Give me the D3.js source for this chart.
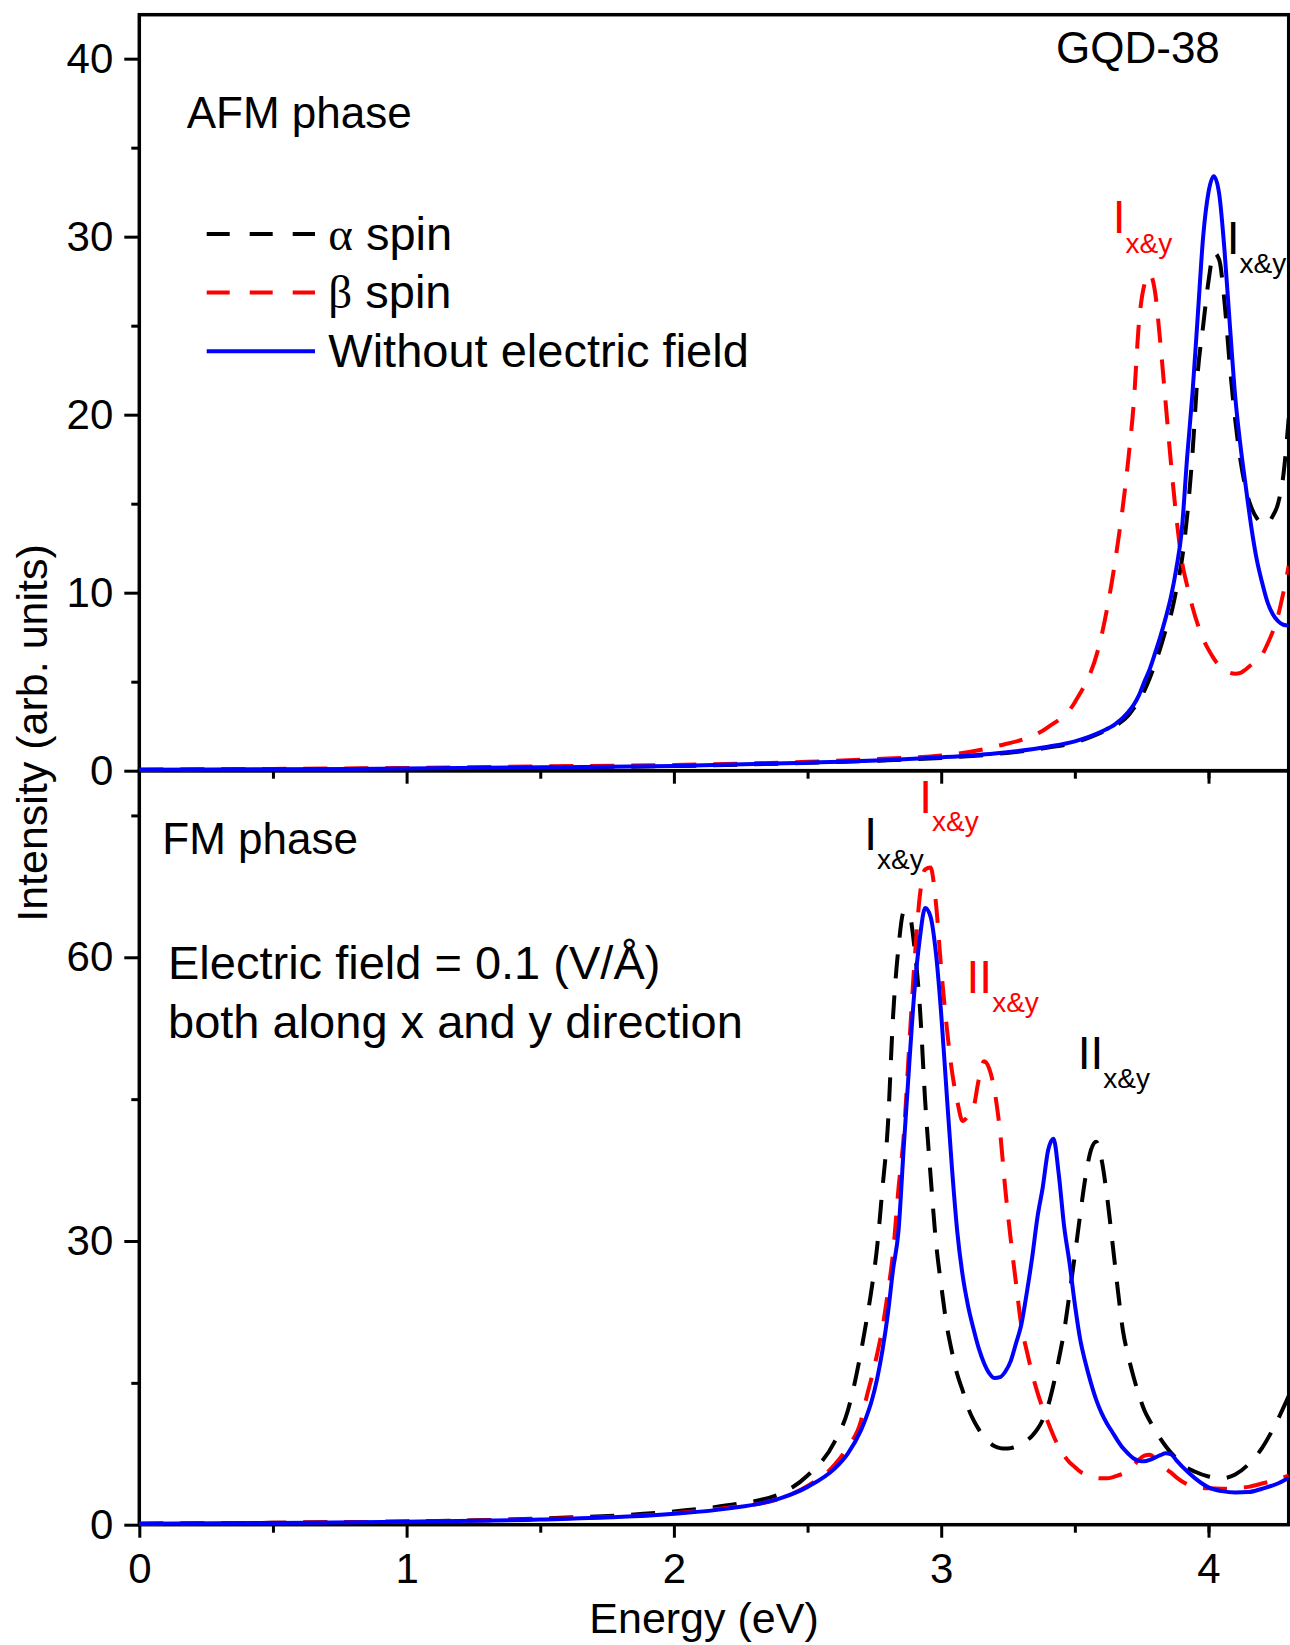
<!DOCTYPE html>
<html><head><meta charset="utf-8">
<script src="https://cdn.jsdelivr.net/npm/d3@7"></script>
<style>
html,body{margin:0;padding:0;background:#fff;}
svg text{font-family:"Liberation Sans",Arial,Helvetica,sans-serif;}
</style></head>
<body>
<svg id="chart" width="1290" height="1645"></svg>
<script>
// ---------------- DATA ----------------
const xTicksMajor = [0, 1, 2, 3, 4];
const xTicksMinor = [0.5, 1.5, 2.5, 3.5, 4.0];
const afmTicksMajor = [0, 10, 20, 30, 40];
const afmTicksMinor = [5, 15, 25, 35];
const fmTicksMajor = [0, 30, 60];
const fmTicksMinor = [15, 45, 75];

// AFM phase (top panel)
const afmEnergy = [0, 0.5, 1, 1.5, 2, 2.5, 2.8, 3.0, 3.2, 3.4, 3.5, 3.6, 3.65, 3.7,
  3.72, 3.74, 3.76, 3.78, 3.8, 3.82, 3.84, 3.86, 3.88, 3.9, 3.92, 3.94, 3.96, 3.98, 4.0,
  4.02, 4.04, 4.06, 4.08, 4.1, 4.12, 4.14, 4.16, 4.18, 4.2, 4.22, 4.24, 4.26, 4.28, 4.3];
const afmAlpha = [0.05, 0.08, 0.12, 0.18, 0.26, 0.44, 0.58, 0.72, 0.93, 1.3, 1.58, 2.15, 2.5, 3.1,
  3.5, 3.9, 4.5, 5.2, 6.0, 6.9, 7.9, 8.8, 10.2, 11.8, 14.3, 17.8, 22.4, 25.0, 27.5,
  29.1, 28.7, 26.3, 22.7, 19.7, 17.4, 15.8, 14.8, 14.2, 13.9, 13.9, 14.3, 15.0, 16.6, 19.8];
const afmBeta = [0.06, 0.1, 0.15, 0.24, 0.32, 0.5, 0.68, 0.85, 1.35, 2.45, 3.85, 7.6, 11.7, 17.5,
  20.6, 25.2, 27.3, 27.9, 26.9, 24.0, 20.6, 17.2, 14.2, 11.8, 10.4, 9.2, 8.2, 7.4, 6.8,
  6.3, 5.9, 5.65, 5.5, 5.45, 5.5, 5.7, 5.95, 6.2, 6.5, 7.1, 7.8, 8.7, 10.0, 11.5];
const afmNoField = [0.05, 0.08, 0.12, 0.19, 0.27, 0.45, 0.6, 0.75, 0.97, 1.35, 1.65, 2.2, 2.6, 3.3,
  3.7, 4.25, 5.0, 5.7, 6.6, 7.55, 8.6, 9.8, 11.4, 13.5, 17.6, 21.2, 25.6, 30.0, 32.5,
  33.4, 32.4, 29.2, 25.0, 21.0, 18.2, 15.9, 13.7, 11.9, 10.6, 9.5, 8.8, 8.4, 8.2, 8.15];

// FM phase (bottom panel)
const fmEnergy = [0, 0.5, 1, 1.5, 2, 2.2, 2.4, 2.5, 2.6, 2.65, 2.7,
  2.72, 2.74, 2.76, 2.78, 2.8, 2.82, 2.84, 2.86, 2.88, 2.9,
  2.92, 2.94, 2.96, 2.98, 3.0, 3.02, 3.04, 3.06, 3.08, 3.1,
  3.12, 3.14, 3.16, 3.18, 3.2, 3.22, 3.24, 3.26, 3.28, 3.3,
  3.32, 3.34, 3.36, 3.38, 3.4, 3.42, 3.44, 3.46, 3.48, 3.5,
  3.52, 3.54, 3.56, 3.58, 3.6, 3.62, 3.64, 3.66, 3.68, 3.7,
  3.72, 3.74, 3.76, 3.78, 3.8, 3.82, 3.84, 3.86, 3.88, 3.9,
  3.95, 4.0, 4.05, 4.1, 4.15, 4.2, 4.25, 4.3];
const fmAlpha = [0.1, 0.2, 0.35, 0.65, 1.4, 2.05, 3.3, 5.2, 8.7, 12.0, 18.3,
  21.5, 25.0, 29.3, 35.5, 42.0, 53.8, 61.0, 64.8, 64.6, 61.0,
  54.8, 44.8, 37.0, 30.0, 25.3, 21.2, 18.3, 15.9, 14.2, 12.4,
  11.1, 10.1, 9.3, 8.7, 8.3, 8.1, 8.05, 8.1, 8.25, 8.5,
  8.9, 9.4, 10.1, 11.1, 12.6, 14.8, 17.5, 20.5, 24.4, 28.5,
  32.8, 36.8, 39.6, 40.5, 38.6, 34.8, 30.0, 25.0, 20.5, 17.8,
  15.6, 13.7, 12.1, 11.0, 10.0, 9.1, 8.3, 7.6, 7.0, 6.4,
  5.6, 5.1, 4.9, 5.3, 6.4, 8.1, 10.6, 13.6];
const fmBeta = [0.1, 0.2, 0.34, 0.6, 1.2, 1.8, 2.8, 4.1, 6.3, 8.2, 11.0,
  13.4, 15.6, 18.0, 20.8, 24.5, 28.8, 35.5, 41.2, 50.5, 59.5,
  66.5, 69.3, 69.5, 65.8, 58.8, 52.8, 48.0, 44.8, 42.7, 43.2,
  44.0, 47.0, 49.0, 48.2, 45.8, 41.6, 35.4, 30.2, 25.5, 21.0,
  18.4, 16.0, 14.0, 12.3, 10.8, 9.4, 8.2, 7.3, 6.6, 6.1,
  5.6, 5.3, 5.05, 4.95, 4.9, 4.9, 5.0, 5.2, 5.4, 5.8,
  6.3, 6.9, 7.3, 7.4, 7.0, 6.4, 5.9, 5.5, 5.0, 4.6,
  4.0, 3.85, 3.8, 3.85, 4.0, 4.35, 4.7, 5.2];
const fmNoField = [0.1, 0.18, 0.32, 0.55, 1.15, 1.7, 2.8, 4.0, 5.9, 7.5, 10.0,
  11.4, 13.1, 15.4, 18.4, 22.2, 27.0, 31.0, 40.0, 48.5, 56.5,
  62.0, 65.2, 64.3, 60.5, 54.0, 45.8, 37.8, 31.0, 26.4, 23.2,
  20.8, 18.7, 17.1, 16.0, 15.5, 15.6, 16.2, 17.3, 19.2, 21.2,
  24.5, 28.2, 32.5, 35.7, 39.6, 40.8, 37.0, 31.5, 27.7, 23.3,
  19.6, 17.1, 15.0, 13.2, 11.8, 10.7, 9.8, 8.9, 8.1, 7.5,
  7.0, 6.75, 6.7, 6.85, 7.1, 7.35, 7.55, 7.45, 6.8, 6.2,
  4.9, 3.95, 3.55, 3.4, 3.45, 3.8, 4.25, 4.95];

const seriesGreek = ["\u03b1", "\u03b2", ""];
const seriesNames = [" spin", " spin", "Without electric field"];
const seriesColors = ["#000000", "#ff0000", "#0000ff"];

// ---------------- LAYOUT ----------------
const svg = d3.select("#chart");
const X0 = 139.3, X1 = 1288.7;
const topY0 = 14.7, midY = 770.7, botY1 = 1524.7;
const FONT = '"Liberation Sans",Arial,Helvetica,sans-serif';
const SERIF = '"Liberation Serif","Times New Roman",serif';

const x = d3.scaleLinear().domain([0, 4.3]).range([X0, X1]);
const yTop = d3.scaleLinear().domain([0, 42.47]).range([midY, topY0]);
const yBot = d3.scaleLinear().domain([0, 79.73]).range([botY1, midY]);

function styleAxis(g) {
  g.select(".domain").remove();
  g.selectAll(".tick line").attr("stroke", "#000").attr("stroke-width", 3);
  g.selectAll(".tick text").attr("fill", "#000").style("font-family", FONT).style("font-size", "42px");
}

// clip paths
const defs = svg.append("defs");
defs.append("clipPath").attr("id", "clipTop").append("rect")
  .attr("x", X0).attr("y", topY0).attr("width", X1 - X0).attr("height", midY - topY0 + 2);
defs.append("clipPath").attr("id", "clipBot").append("rect")
  .attr("x", X0).attr("y", midY).attr("width", X1 - X0).attr("height", botY1 - midY + 3);

// ---- axes: top panel
svg.append("g").attr("transform", `translate(${X0},0)`)
  .call(d3.axisLeft(yTop).tickValues(afmTicksMajor).tickSize(15).tickPadding(11).tickFormat(d3.format("d")))
  .call(styleAxis);
svg.append("g").attr("transform", `translate(${X0},0)`)
  .call(d3.axisLeft(yTop).tickValues(afmTicksMinor).tickSize(8).tickFormat(""))
  .call(styleAxis);
svg.append("g").attr("transform", `translate(0,${midY})`)
  .call(d3.axisBottom(x).tickValues(xTicksMajor.filter(d => d > 0)).tickSize(13).tickFormat(""))
  .call(styleAxis);
svg.append("g").attr("transform", `translate(0,${midY})`)
  .call(d3.axisBottom(x).tickValues(xTicksMinor).tickSize(8).tickFormat(""))
  .call(styleAxis);

// ---- axes: bottom panel
svg.append("g").attr("transform", `translate(${X0},0)`)
  .call(d3.axisLeft(yBot).tickValues(fmTicksMajor).tickSize(15).tickPadding(11).tickFormat(d3.format("d")))
  .call(styleAxis);
svg.append("g").attr("transform", `translate(${X0},0)`)
  .call(d3.axisLeft(yBot).tickValues(fmTicksMinor).tickSize(8).tickFormat(""))
  .call(styleAxis);
svg.append("g").attr("transform", `translate(0,${botY1})`)
  .call(d3.axisBottom(x).tickValues(xTicksMajor).tickSize(13).tickPadding(15).tickFormat(d3.format("d")))
  .call(styleAxis);
svg.append("g").attr("transform", `translate(0,${botY1})`)
  .call(d3.axisBottom(x).tickValues(xTicksMinor).tickSize(8).tickFormat(""))
  .call(styleAxis);

// ---- frames
svg.append("rect").attr("x", X0).attr("y", topY0).attr("width", X1 - X0).attr("height", midY - topY0)
  .attr("fill", "none").attr("stroke", "#000").attr("stroke-width", 3.5);
svg.append("rect").attr("x", X0).attr("y", midY).attr("width", X1 - X0).attr("height", botY1 - midY)
  .attr("fill", "none").attr("stroke", "#000").attr("stroke-width", 3.5);

// ---- data lines
const DASH = "24,17";
function drawSeries(energy, values, yScale, clip, color, dashed) {
  const pts = energy.map((e, i) => [e, values[i]]);
  const line = d3.line().x(d => x(d[0])).y(d => yScale(d[1])).curve(d3.curveMonotoneX);
  svg.append("path").datum(pts)
    .attr("clip-path", `url(#${clip})`)
    .attr("d", line)
    .attr("fill", "none")
    .attr("stroke", color)
    .attr("stroke-width", 4)
    .attr("stroke-linejoin", "round")
    .attr("stroke-dasharray", dashed ? DASH : null);
}
drawSeries(afmEnergy, afmAlpha, yTop, "clipTop", seriesColors[0], true);
drawSeries(afmEnergy, afmBeta, yTop, "clipTop", seriesColors[1], true);
drawSeries(afmEnergy, afmNoField, yTop, "clipTop", seriesColors[2], false);
drawSeries(fmEnergy, fmAlpha, yBot, "clipBot", seriesColors[0], true);
drawSeries(fmEnergy, fmBeta, yBot, "clipBot", seriesColors[1], true);
drawSeries(fmEnergy, fmNoField, yBot, "clipBot", seriesColors[2], false);

// ---- text helpers
function txt(xp, yp, s, size, color, anchor) {
  return svg.append("text").attr("x", xp).attr("y", yp).text(s)
    .attr("fill", color || "#000").style("font-size", size + "px")
    .attr("text-anchor", anchor || "start");
}

// panel labels
txt(1056, 63.3, "GQD-38", 44);
txt(186.7, 128.3, "AFM phase", 44);
txt(162.3, 854, "FM phase", 44);
txt(168, 979.3, "Electric field = 0.1 (V/\u00c5)", 47);
txt(168, 1038.3, "both along x and y direction", 47);

// legend
const legendBase = [249.5, 308, 366.7];
seriesNames.forEach((name, i) => {
  svg.append("line").attr("x1", 206.7).attr("x2", 315)
    .attr("y1", legendBase[i] - 15.5).attr("y2", legendBase[i] - 15.5)
    .attr("stroke", seriesColors[i]).attr("stroke-width", 4)
    .attr("stroke-dasharray", i < 2 ? "23,20" : null);
  const t = svg.append("text").attr("x", 328.3).attr("y", legendBase[i])
    .attr("fill", "#000").style("font-size", "47px");
  if (seriesGreek[i]) t.append("tspan").style("font-family", SERIF).text(seriesGreek[i]);
  t.append("tspan").text(name);
});

// peak labels (positioned in data coordinates)
const peakLabels = [
  {panel: "top", e: 3.642, v: 30.19, main: "I", color: "#ff0000", dy: 20},
  {panel: "top", e: 4.068, v: 29.0, main: "I", color: "#000000", dy: 18.3},
  {panel: "bot", e: 2.918, v: 75.29, main: "I", color: "#ff0000", dy: 18},
  {panel: "bot", e: 2.712, v: 71.34, main: "I", color: "#000000", dy: 19.3},
  {panel: "bot", e: 3.095, v: 56.19, main: "II", color: "#ff0000", dy: 18.4},
  {panel: "bot", e: 3.511, v: 48.15, main: "II", color: "#000000", dy: 19}
];
peakLabels.forEach(p => {
  const ys = p.panel === "top" ? yTop : yBot;
  const t = svg.append("text").attr("x", x(p.e)).attr("y", ys(p.v))
    .attr("fill", p.color).style("font-size", "46px");
  t.append("tspan").text(p.main);
  t.append("tspan").attr("dy", p.dy).style("font-size", "28px").text("x&y");
});

// axis titles
svg.append("text").attr("transform", "translate(46.7,733) rotate(-90)")
  .attr("text-anchor", "middle").style("font-size", "43px").attr("fill", "#000")
  .text("Intensity (arb. units)");
txt(704, 1633, "Energy (eV)", 43, "#000", "middle");
</script>
</body></html>
